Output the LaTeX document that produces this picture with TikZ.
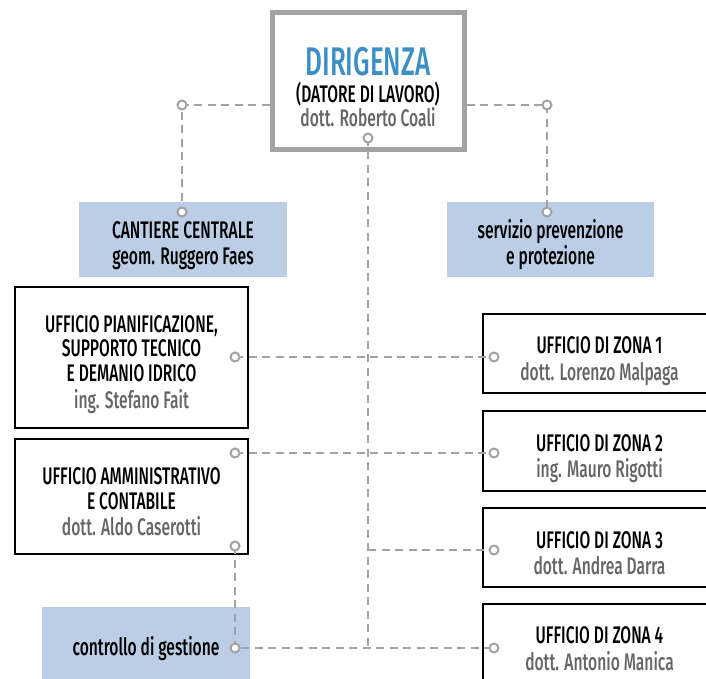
\documentclass[tikz,border=0pt]{standalone}
\usepackage{fontspec}
\setmainfont{Fira Sans}[FakeStretch=0.65, UprightFont=* Medium]

\definecolor{linegray}{HTML}{A3A3A3}
\definecolor{namegray}{HTML}{666666}
\definecolor{headblue}{HTML}{3B8FC6}
\definecolor{staffblue}{HTML}{BCCEE6}

\newcommand{\orgtext}{\fontsize{24}{26.5}\selectfont}
\newcommand{\who}[1]{{\color{namegray}#1}}
\newcommand{\toppad}[1]{\rule{0pt}{#1}}

\tikzset{
  office/.style={draw=black, line width=2pt, fill=white, minimum width=233pt,
    align=center, font=\orgtext, inner sep=0pt},
  staff/.style={fill=staffblue, minimum width=208pt, minimum height=75pt,
    align=center, font=\orgtext, inner sep=0pt},
  link/.style={linegray, line width=2.8pt, dash pattern=on 8pt off 5.5pt},
  knob/.style={draw=linegray, line width=2pt, fill=white}
}

\begin{document}
\begin{tikzpicture}[x=1pt, y=-1pt]
\useasboundingbox (0,0) rectangle (706,679);
\clip (0,0) rectangle (706,679);

% Dirigenza
\node[draw=linegray, line width=5pt, minimum width=192pt, minimum height=137pt,
  align=center, inner sep=0pt, font=\orgtext] (dir) at (368,81)
  {\toppad{40pt}{\color{headblue}\fontsize{40}{40}\selectfont DIRIGENZA}\\[1pt]
   (DATORE DI LAVORO)\\[-3pt]
   \who{dott. Roberto Coali}};

% staff
\node[staff] (cant) at (183,239.5) {\toppad{29pt}CANTIERE CENTRALE\\geom. Ruggero Faes};
\node[staff, minimum width=207pt] (serv) at (550.5,239.5) {\toppad{29pt}servizio prevenzione\\e protezione};
\node[staff, minimum height=84pt] (ctrl) at (146,649) {controllo di gestione};

% uffici a sinistra
\node[office, minimum height=141pt] (pian) at (131.5,357.5)
  {\toppad{31pt}UFFICIO PIANIFICAZIONE,\\[-2pt]SUPPORTO TECNICO\\[-2pt]E DEMANIO IDRICO\\[1pt]\who{ing. Stefano Fait}};
\node[office, minimum height=115pt] (amm) at (131.5,496.5)
  {\toppad{27pt}UFFICIO AMMINISTRATIVO\\[-1pt]E CONTABILE\\[-1pt]\who{dott. Aldo Caserotti}};

% uffici di zona
\node[office, minimum height=79pt] (zona1) at (599.5,353.5) {\toppad{32pt}UFFICIO DI ZONA 1\\\who{dott. Lorenzo Malpaga}};
\node[office, minimum height=80pt] (zona2) at (599.5,451) {\toppad{32pt}UFFICIO DI ZONA 2\\\who{ing. Mauro Rigotti}};
\node[office, minimum height=79pt] (zona3) at (599.5,547.5) {\toppad{28pt}UFFICIO DI ZONA 3\\\who{dott. Andrea Darra}};
\node[office, minimum height=80pt] (zona4) at (599.5,644) {\toppad{26pt}UFFICIO DI ZONA 4\\\who{dott. Antonio Manica}};

% punti di aggancio
\coordinate (kL) at (182,105);
\coordinate (kLc) at (182,212);
\coordinate (kR) at (547,105);
\coordinate (kRs) at (547,212);
\coordinate (kD) at (368,138);
\coordinate (kM) at (368,648);
\coordinate (kP) at (235,357);
\coordinate (kZ1) at (494,357);
\coordinate (kA) at (235,453);
\coordinate (kZ2) at (494,453);
\coordinate (kZ3) at (494,550);
\coordinate (kA2) at (235,546);
\coordinate (kC) at (235,648);
\coordinate (kZ4) at (494,648);

% collegamenti
\draw[link] (dir.west |- kL) -- (kL) -- (kLc);
\draw[link] (dir.east |- kR) -- (kR) -- (kRs);
\draw[link] (kD) -- (kM);
\draw[link] (kP) -- (kZ1);
\draw[link] (kA) -- (kZ2);
\draw[link] (kD |- kZ3) -- (kZ3);
\draw[link] (kA2) -- (kC) -- (kZ4);

\foreach \k in {kL,kLc,kR,kRs,kD,kP,kZ1,kA,kZ2,kZ3,kA2,kC,kZ4}
  \draw[knob] (\k) circle (4.5pt);

\end{tikzpicture}
\end{document}
